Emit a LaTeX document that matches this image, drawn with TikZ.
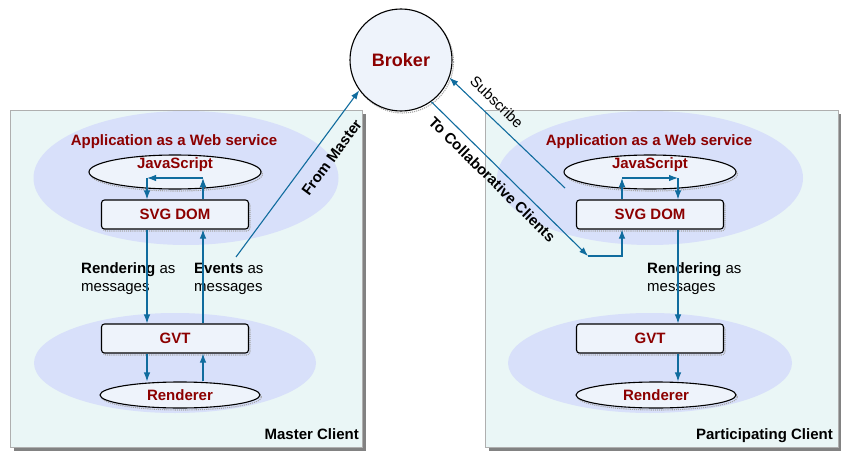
\documentclass[tikz,border=0pt]{standalone}
\usepackage{fontspec}
\setmainfont{Liberation Sans}
\usepackage{tikz}
\usetikzlibrary{shapes.geometric, arrows.meta, shadows}
\definecolor{panelfill}{RGB}{234,246,246}
\definecolor{panelline}{RGB}{175,175,175}
\definecolor{panelshadow}{RGB}{130,130,130}
\definecolor{zonefill}{RGB}{216,224,250}
\definecolor{boxfill}{RGB}{238,243,251}
\definecolor{darkred}{RGB}{140,0,0}
\definecolor{flowblue}{RGB}{16,108,158}
\tikzstyle{panel}=[draw=panelline, fill=panelfill, inner sep=0pt, general shadow={fill=panelshadow, shadow xshift=4pt, shadow yshift=-4pt}]
\tikzstyle{zone}=[ellipse, fill=zonefill, inner sep=0pt]
\tikzstyle{lbl}=[font=\fontsize{15}{18}\selectfont, inner sep=0pt, align=left]
\tikzstyle{blbl}=[lbl, font=\fontsize{15}{18}\selectfont\bfseries]
\tikzstyle{dotshadow}=[general shadow={draw=gray!70, densely dotted, shadow xshift=1.5pt, shadow yshift=-2pt}]
\tikzstyle{layer}=[blbl, text=darkred, draw, line width=1.1pt, rounded corners=3pt, fill=boxfill, minimum width=147, minimum height=29, dotshadow]
\tikzstyle{oval}=[blbl, text=darkred, ellipse, draw, line width=1.1pt, fill=boxfill, dotshadow]
\tikzstyle{flow}=[draw=flowblue, line width=1.1pt, -{Latex[length=9pt,width=6.5pt]}]

\begin{document}
\begin{tikzpicture}[x=1pt,y=-1pt]
        \useasboundingbox (0,0) rectangle (841,452);
        \node[panel, minimum width=352, minimum height=337] (master) at (186,278.5) {};
        \node[panel, minimum width=353, minimum height=337] (part) at (661.5,278.5) {};
        \node[zone, minimum width=305, minimum height=134] (app1) at (186,178) {};
        \node[zone, minimum width=282, minimum height=100] (low1) at (175,363) {};
        \node[zone, minimum width=306, minimum height=134] (app2) at (650,178) {};
        \node[zone, minimum width=284, minimum height=100] (low2) at (650,363) {};
        \node[blbl, text=darkred] (app1t) at (174,141.5) {Application as a Web service};
        \node[blbl, text=darkred] (app2t) at (649,141.5) {Application as a Web service};
        \node[oval, minimum width=172, minimum height=34, text height=7pt, text depth=14pt] (js1) at (175,172) {JavaScript};
        \node[oval, minimum width=172, minimum height=34, text height=7pt, text depth=14pt] (js2) at (650,172) {JavaScript};
        \node[layer] (dom1) at (175,214.5) {SVG DOM};
        \node[layer] (dom2) at (650,214.5) {SVG DOM};
        \node[layer] (gvt1) at (175,338.5) {GVT};
        \node[layer] (gvt2) at (650,338.5) {GVT};
        \node[oval, minimum width=160, minimum height=26] (rend1) at (180,395) {Renderer};
        \node[oval, minimum width=160, minimum height=26] (rend2) at (656,395) {Renderer};
        \node[circle, draw, line width=1.1pt, fill=boxfill, minimum size=102, inner sep=0pt, font=\fontsize{18}{22}\selectfont\bfseries, text=darkred, dotshadow] (broker) at (401,60) {Broker};
        \node[lbl, anchor=west] (rmsg1) at (81,279) {\textbf{Rendering} as\\messages};
        \node[lbl, anchor=west] (emsg1) at (194,279) {\textbf{Events} as\\messages};
        \node[lbl, anchor=west] (rmsg2) at (647,279) {\textbf{Rendering} as\\messages};
        \node[blbl, anchor=east] (mcl) at (359,434) {Master Client};
        \node[blbl, anchor=east] (pcl) at (833,435.5) {Participating Client};
        \coordinate (jl1) at (147,178);
        \coordinate (jr1) at (203,178);
        \coordinate (jl2) at (622,178);
        \coordinate (jr2) at (678,178);
        \coordinate (fm) at (236,257);
        \coordinate (sub) at (565,188);
        \coordinate (tc) at (588,256);
        \coordinate (tcr) at (622,256);
        \draw[flow] (dom1.north -| jr1) -- (jr1);
        \draw[flow] (jr1) -- (jl1);
        \draw[flow] (jl1) -- (dom1.north -| jl1);
        \draw[flow] (dom1.south -| jl1) -- (gvt1.north -| jl1);
        \draw[flow] (gvt1.north -| jr1) -- (dom1.south -| jr1);
        \draw[flow] (gvt1.south -| jl1) -- (rend1.north -| jl1);
        \draw[flow] (rend1.north -| jr1) -- (gvt1.south -| jr1);
        \draw[flow] (dom2.north -| jl2) -- (jl2);
        \draw[flow] (jl2) -- (jr2);
        \draw[flow] (jr2) -- (dom2.north -| jr2);
        \draw[flow] (dom2.south -| jr2) -- (gvt2.north -| jr2);
        \draw[flow] (gvt2.south -| jr2) -- (rend2.north -| jr2);
        \draw[flow] (tc) -- (tcr) -- (dom2.south -| tcr);
        \draw[flow] (fm) -- (broker.216) node[blbl, pos=0.66, sloped, below=12pt] {From Master};
        \draw[flow] (sub) -- (broker.340) node[lbl, pos=0.68, sloped, above=9pt] {Subscribe};
        \draw[flow] (broker.306) -- (tc) node[blbl, pos=0.445, sloped, below=6.5pt] {To Collaborative Clients};
    \end{tikzpicture}
\end{document}
